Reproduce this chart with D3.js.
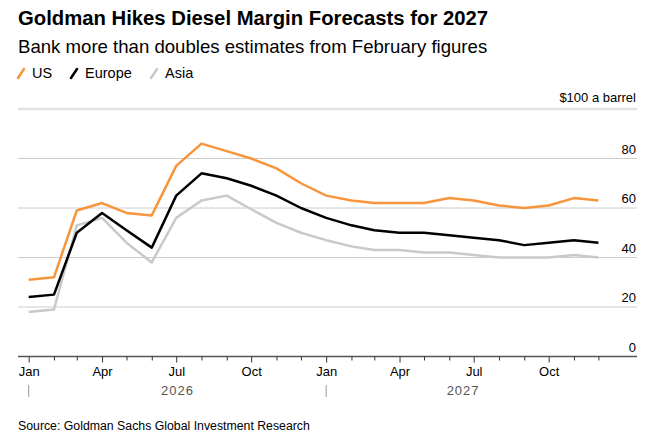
<!DOCTYPE html>
<html>
<head>
<meta charset="utf-8">
<script src="https://cdn.jsdelivr.net/npm/d3@7"></script>
<style>
  body { margin: 0; background: #fff; font-family: "Liberation Sans", Arial, sans-serif; }
</style>
</head>
<body>
<div id="chart"></div>
<script>
// monthly forecasts, $ a barrel
const months = ["2026-01","2026-02","2026-03","2026-04","2026-05","2026-06","2026-07","2026-08","2026-09","2026-10","2026-11","2026-12",
                "2027-01","2027-02","2027-03","2027-04","2027-05","2027-06","2027-07","2027-08","2027-09","2027-10","2027-11","2027-12"];
const usValues     = [31, 32, 59, 62, 58, 57, 77, 86, 83, 80, 76, 70, 65, 63, 62, 62, 62, 64, 63, 61, 60, 61, 64, 63];
const europeValues = [24, 25, 50, 58, 51, 44, 65, 74, 72, 69, 65, 60, 56, 53, 51, 50, 50, 49, 48, 47, 45, 46, 47, 46];
const asiaValues   = [18, 19, 53, 56, 46, 38, 56, 63, 65, 59.5, 54, 50, 47, 44.5, 43, 43, 42, 42, 41, 40, 40, 40, 41, 40];
const seriesNames  = ["US", "Europe", "Asia"];
const seriesColors = ["#f7953d", "#000000", "#c9c9c9"];
const yTicks = [0, 20, 40, 60, 80];
const years = ["2026", "2027"];

const W = 663, H = 447;
const parse = d3.timeParse("%Y-%m");
const dates = months.map(parse);

const svg = d3.select("#chart").append("svg")
  .attr("width", W)
  .attr("height", H);

// title block
svg.append("text")
  .attr("x", 18).attr("y", 25)
  .style("font-size", "20.3px").style("font-weight", "bold").style("fill", "#000")
  .text("Goldman Hikes Diesel Margin Forecasts for 2027");

svg.append("text")
  .attr("x", 18).attr("y", 53)
  .style("font-size", "18.6px").style("fill", "#000")
  .text("Bank more than doubles estimates from February figures");

// legend
const legendX = [18, 71, 151];
const legend = svg.selectAll("g.legend")
  .data(seriesNames)
  .enter().append("g")
  .attr("class", "legend")
  .attr("transform", (d, i) => `translate(${legendX[i]},0)`);

legend.append("line")
  .attr("x1", 0).attr("y1", 78).attr("x2", 6).attr("y2", 69)
  .attr("stroke", (d, i) => seriesColors[i])
  .attr("stroke-width", 2.5)
  .attr("stroke-linecap", "round");

legend.append("text")
  .attr("x", 14).attr("y", 78)
  .style("font-size", "14.5px").style("fill", "#000")
  .text(d => d);

// scales
const x = d3.scaleTime()
  .domain([parse("2026-01"), parse("2027-12")])
  .range([28.7, 598.4]);

const y = d3.scaleLinear()
  .domain([0, 100])
  .range([356.5, 109]);

const plotLeft = 18, plotRight = 637;

// gridlines
svg.append("g")
  .selectAll("line")
  .data(yTicks.filter(d => d > 0))
  .enter().append("line")
  .attr("x1", plotLeft).attr("x2", plotRight)
  .attr("y1", d => y(d)).attr("y2", d => y(d))
  .attr("stroke", "#cccccc")
  .attr("stroke-width", 1);

svg.append("line")
  .attr("x1", plotLeft).attr("x2", plotRight)
  .attr("y1", y(100)).attr("y2", y(100))
  .attr("stroke", "#e2e2e2")
  .attr("stroke-width", 2.5);

// y labels
svg.append("g")
  .selectAll("text")
  .data(yTicks)
  .enter().append("text")
  .attr("x", 636)
  .attr("y", d => y(d) - 5)
  .attr("text-anchor", "end")
  .style("font-size", "13px").style("fill", "#000")
  .text(d => d);

svg.append("text")
  .attr("x", 636).attr("y", 102)
  .attr("text-anchor", "end")
  .style("font-size", "13px").style("fill", "#000")
  .text("$100 a barrel");

// lines
const allSeries = [usValues, europeValues, asiaValues];
const line = d3.line()
  .x((d, i) => x(dates[i]))
  .y(d => y(d));

svg.append("g")
  .selectAll("path")
  .data(allSeries.slice().reverse())
  .enter().append("path")
  .attr("d", d => line(d))
  .attr("fill", "none")
  .attr("stroke", (d, i) => seriesColors[2 - i])
  .attr("stroke-width", 2.5)
  .attr("stroke-linejoin", "round");

// x axis
svg.append("line")
  .attr("x1", plotLeft).attr("x2", plotRight)
  .attr("y1", y(0)).attr("y2", y(0))
  .attr("stroke", "#555")
  .attr("stroke-width", 1.5);

const xAxis = svg.append("g")
  .attr("transform", `translate(0,${y(0)})`)
  .call(d3.axisBottom(x)
    .ticks(d3.timeMonth.every(1))
    .tickSize(4)
    .tickFormat(d => [0, 3, 6, 9].includes(d.getMonth()) ? d3.timeFormat("%b")(d) : ""));

xAxis.select(".domain").remove();
xAxis.selectAll(".tick line")
  .attr("stroke", "#333")
  .attr("y2", d => [0, 3, 6, 9].includes(d.getMonth()) ? 6 : 4);
xAxis.selectAll(".tick text")
  .attr("y", 10)
  .style("font-family", "'Liberation Sans', Arial, sans-serif")
  .style("font-size", "13px")
  .style("fill", "#000");

// year row
const yearStart = years.map(yy => parse(yy + "-01"));
svg.append("g")
  .selectAll("line")
  .data(yearStart)
  .enter().append("line")
  .attr("x1", d => x(d)).attr("x2", d => x(d))
  .attr("y1", 385).attr("y2", 397)
  .attr("stroke", "#999")
  .attr("stroke-width", 1);

svg.append("g")
  .selectAll("text")
  .data(years)
  .enter().append("text")
  .attr("x", (d, i) => {
    const a = x(yearStart[i]);
    const b = i + 1 < years.length ? x(yearStart[i + 1]) : plotRight - 37;
    return (a + b) / 2;
  })
  .attr("y", 395)
  .attr("text-anchor", "middle")
  .style("font-size", "13px")
  .style("letter-spacing", "1px")
  .style("fill", "#555")
  .text(d => d);

// source
svg.append("text")
  .attr("x", 18).attr("y", 430)
  .style("font-size", "12.3px").style("fill", "#000")
  .text("Source: Goldman Sachs Global Investment Research");
</script>
</body>
</html>
